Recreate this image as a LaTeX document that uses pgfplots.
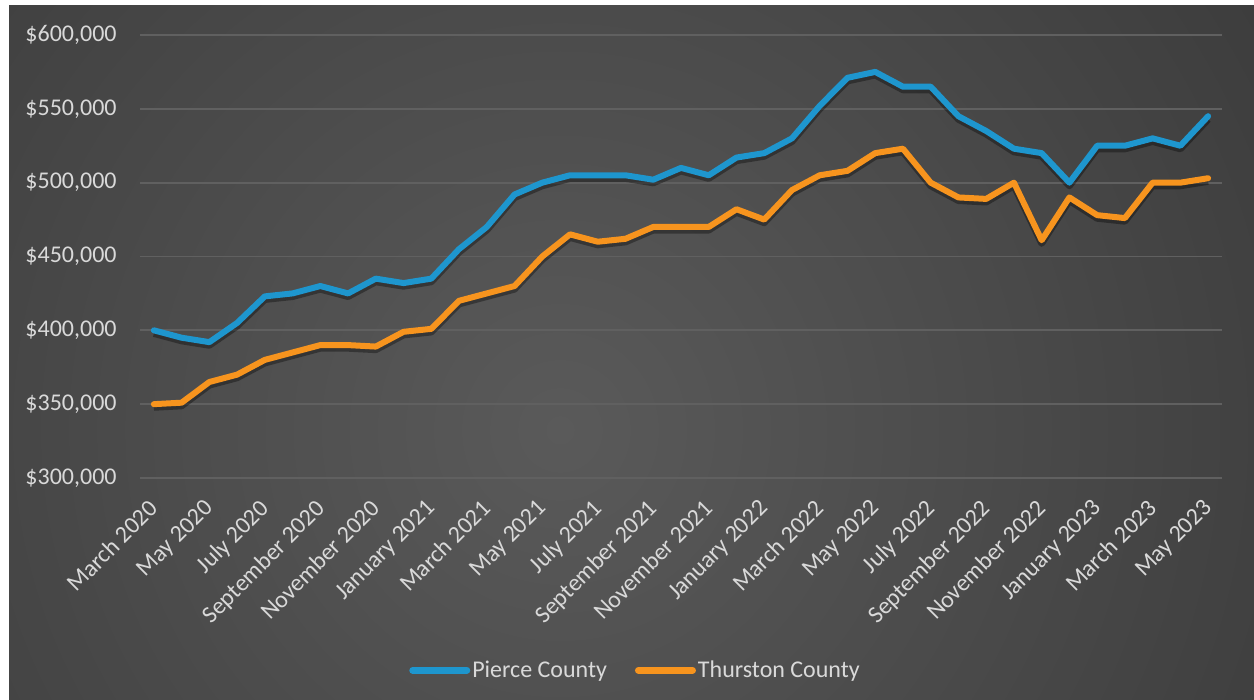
\documentclass[border=0pt]{standalone}
\usepackage{fontspec}
\setmainfont{Carlito}
\usepackage{pgfplots}
\usepackage{pgfplotstable}
\pgfplotsset{compat=1.18}
\definecolor{bgc}{RGB}{90,90,90}
\definecolor{bge}{RGB}{33,33,33}
\definecolor{txt}{RGB}{217,217,217}
\definecolor{gridc}{RGB}{96,96,96}
\definecolor{pierce}{RGB}{30,150,206}
\definecolor{thurston}{RGB}{247,148,30}
\pgfdeclareradialshading{bgshade}{\pgfpoint{0bp}{0bp}}{color(0bp)=(bgc); color(50bp)=(bge)}

\pgfplotstableread{
x p t
0 400000 350000
1 395000 351000
2 392000 365000
3 405000 370000
4 423000 380000
5 425000 385000
6 430000 390000
7 425000 390000
8 435000 389000
9 432000 399000
10 435000 401000
11 455000 420000
12 470000 425000
13 492000 430000
14 500000 450000
15 505000 465000
16 505000 460000
17 505000 462000
18 502000 470000
19 510000 470000
20 505000 470000
21 517000 482000
22 520000 475000
23 530000 495000
24 552000 505000
25 571000 508000
26 575000 520000
27 565000 523000
28 565000 500000
29 545000 490000
30 535000 489000
31 523000 500000
32 520000 461000
33 500000 490000
34 525000 478000
35 525000 476000
36 530000 500000
37 525000 500000
38 545000 503000
}\datatable

\begin{document}
\begin{tikzpicture}[x=1pt,y=1pt]
\useasboundingbox (0,0) rectangle (627,350);
\fill[white] (0,0) rectangle (627,350);
\begin{scope}
\clip (4.5,0) rectangle (627,347);
\shade[shading=bgshade] (-120,-265) rectangle (680,535);
\end{scope}
\begin{axis}[
  at={(70pt,111pt)}, anchor=south west,
  scale only axis, width=541pt, height=221.5pt,
  xmin=-0.5, xmax=38.5, ymin=300000, ymax=600000,
  clip=false,
  axis line style={draw=none},
  major tick length=0pt,
  ymajorgrids, grid style={gridc, line width=0.9pt},
  ytick={300000,350000,...,600000},
  scaled y ticks=false,
  yticklabel={\$\pgfmathprintnumber[assume math mode=true,fixed,precision=0,1000 sep={,}]{\tick}},
  yticklabel style={inner sep=0pt, xshift=-11.5pt},
  xtick={0,2,...,38},
  xticklabels={March 2020, May 2020, July 2020, September 2020, November 2020, January 2021, March 2021, May 2021, July 2021, September 2021, November 2021, January 2022, March 2022, May 2022, July 2022, September 2022, November 2022, January 2023, March 2023, May 2023},
  xticklabel style={rotate=45, anchor=north east, inner sep=0pt, xshift=-9.3pt, yshift=-4.7pt},
  every tick label/.append style={font=\fontsize{12}{14}\selectfont, text=txt},
  legend style={at={(rel axis cs:0.458,-0.434)}, anchor=center, draw=none, fill=none,
    text=txt, font=\fontsize{12}{14}\selectfont, inner sep=0pt,
    /tikz/every even column/.append style={column sep=13pt},
    nodes={inner sep=1pt}},
  legend columns=2,
  legend image code/.code={\draw[#1, line width=3.5pt, line cap=round] (0pt,0pt) -- (27pt,0pt);},
]
\addplot[forget plot, black, opacity=0.35, line width=3.4pt, line join=round, yshift=-1.6pt] table[x=x,y=p]{\datatable};
\addplot[forget plot, black, opacity=0.35, line width=3.4pt, line join=round, yshift=-1.6pt] table[x=x,y=t]{\datatable};
\addplot[pierce, line width=3pt, line join=round, line cap=round] table[x=x,y=p]{\datatable};
\addlegendentry{Pierce County}
\addplot[thurston, line width=3pt, line join=round, line cap=round] table[x=x,y=t]{\datatable};
\addlegendentry{Thurston County}
\end{axis}
\end{tikzpicture}
\end{document}
